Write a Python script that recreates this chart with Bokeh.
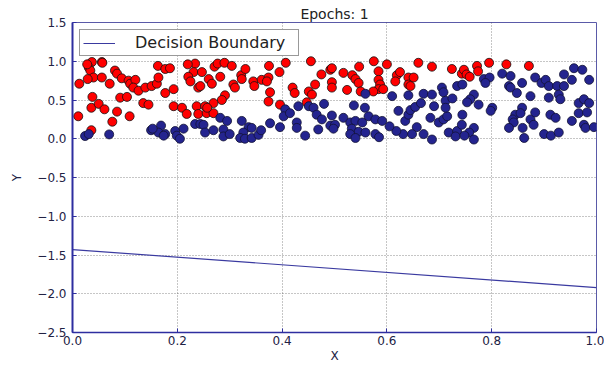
from bokeh.plotting import figure
from bokeh.models import FixedTicker, CustomJSTickFormatter, Legend, LegendItem, Title
from bokeh.embed import file_html
from bokeh.resources import INLINE

red_x = [0.037, 0.056, 0.031, 0.034, 0.040, 0.056, 0.013, 0.071, 0.081, 0.085, 0.094, 0.107, 0.110, 0.120, 0.116, 0.126,
         0.139, 0.151, 0.161, 0.164, 0.163, 0.177, 0.186, 0.177, 0.193, 0.038, 0.036, 0.050, 0.061, 0.091, 0.104, 0.135,
         0.145, 0.085, 0.076, 0.109, 0.011, 0.036, 0.193, 0.209, 0.218, 0.237, 0.240, 0.234, 0.231, 0.221, 0.225, 0.240,
         0.271, 0.277, 0.290, 0.304, 0.247, 0.260, 0.266, 0.282, 0.244, 0.307, 0.310, 0.322, 0.323, 0.345, 0.347, 0.361,
         0.374, 0.371, 0.375, 0.377, 0.291, 0.285, 0.269, 0.253, 0.256, 0.269, 0.374, 0.396, 0.407, 0.455, 0.475, 0.463,
         0.420, 0.424, 0.451, 0.457, 0.492, 0.495, 0.495, 0.447,
         0.495, 0.517, 0.534, 0.540, 0.546, 0.547, 0.575, 0.584, 0.584, 0.587, 0.584, 0.593, 0.600, 0.524, 0.550, 0.574,
         0.619, 0.625, 0.616, 0.641, 0.651, 0.641, 0.645, 0.660, 0.686, 0.724, 0.743,
         0.747, 0.752, 0.758, 0.772, 0.774, 0.795, 0.828, 0.871,
         0.028, 0.057, 0.029, 0.220, 0.257, 0.330, 0.395]
red_y = [0.99, 0.99, 0.92, 0.88, 0.79, 0.79, 0.71, 0.71, 0.88, 0.84, 0.78, 0.75, 0.71, 0.76, 0.66, 0.62,
         0.66, 0.68, 0.71, 0.79, 0.94, 0.90, 0.91, 0.59, 0.64, 0.54, 0.40, 0.45, 0.38, 0.53, 0.54, 0.46,
         0.44, 0.35, 0.22, 0.29, 0.29, 0.11, 0.42, 0.40, 0.32, 0.42, 0.32, 0.97, 0.86, 0.80, 0.74, 0.66,
         0.93, 0.97, 0.98, 0.94, 0.86, 0.77, 0.71, 0.80, 0.68, 0.70, 0.66, 0.82, 0.77, 0.74, 0.68, 0.76,
         0.79, 0.74, 0.94, 0.60, 0.56, 0.50, 0.46, 0.42, 0.33, 0.33, 0.48, 0.44, 0.98, 1.00, 0.83, 0.70,
         0.66, 0.59, 0.61, 0.57, 0.89, 0.73, 0.66, 0.47,
         0.91, 0.85, 0.82, 0.77, 0.72, 0.93, 1.00, 0.87, 0.76, 0.70, 0.64, 0.64, 0.96, 0.63, 0.61, 0.61,
         0.82, 0.86, 0.74, 0.79, 0.79, 0.70, 0.68, 0.98, 0.93, 0.90, 0.84,
         0.89, 0.83, 0.80, 0.94, 0.87, 0.98, 0.96, 0.94,
         0.96, 0.98, 0.77, 0.96, 0.40, 0.90, 0.86]

blue_x = [0.024, 0.031, 0.070, 0.150, 0.169, 0.164, 0.177, 0.196, 0.199, 0.205, 0.234, 0.244, 0.153, 0.174,
          0.250, 0.253, 0.269, 0.282, 0.295, 0.288, 0.288, 0.323, 0.336, 0.342, 0.326, 0.320, 0.329, 0.342, 0.377,
          0.396, 0.406, 0.403, 0.431, 0.451, 0.460, 0.428, 0.428, 0.444, 0.466, 0.476, 0.469, 0.492,
          0.559, 0.610, 0.641, 0.670, 0.686, 0.705, 0.708, 0.712, 0.734, 0.537, 0.558, 0.495, 0.517, 0.501, 0.498,
          0.530, 0.540, 0.553, 0.565, 0.578, 0.591, 0.533, 0.546, 0.559, 0.530, 0.578, 0.635, 0.641, 0.645, 0.654,
          0.657, 0.631, 0.618, 0.648, 0.670, 0.686, 0.683, 0.699, 0.708, 0.715, 0.712, 0.718, 0.734, 0.731, 0.743,
          0.744, 0.785, 0.796, 0.788, 0.820, 0.836, 0.833, 0.836, 0.858, 0.848, 0.874, 0.883, 0.895, 0.903, 0.909,
          0.925, 0.938, 0.938, 0.957, 0.973, 0.953, 0.986, 0.909, 0.928, 0.931, 0.766, 0.759, 0.753, 0.775, 0.801,
          0.798, 0.744, 0.845, 0.858, 0.855, 0.840, 0.842, 0.833, 0.859, 0.874, 0.880, 0.883, 0.912, 0.922, 0.953,
          0.966, 0.982, 0.966, 0.976, 0.986, 0.976, 0.979, 0.995, 0.766, 0.757, 0.748, 0.766, 0.862, 0.900, 0.913,
          0.928,
          0.300, 0.355, 0.415, 0.480, 0.605, 0.622, 0.665, 0.690, 0.725, 0.585, 0.540, 0.360, 0.212]
blue_y = [0.035, 0.06, 0.056, 0.11, 0.17, 0.08, 0.06, 0.10, 0.04, 0.00, 0.19, 0.19, 0.13, 0.04,
          0.18, 0.08, 0.11, 0.27, 0.23, 0.12, 0.03, 0.23, 0.15, 0.14, 0.08, 0.01, 0.00, 0.01, 0.20,
          0.15, 0.38, 0.29, 0.42, 0.42, 0.40, 0.21, 0.14, 0.04, 0.31, 0.25, 0.12, 0.17,
          0.58, 0.55, 0.56, 0.58, 0.57, 0.66, 0.60, 0.49, 0.68, 0.43, 0.40, 0.30, 0.27, 0.18, 0.13,
          0.21, 0.23, 0.21, 0.29, 0.25, 0.23, 0.13, 0.09, 0.08, 0.06, 0.06, 0.23, 0.31, 0.37, 0.41,
          0.15, 0.06, 0.10, 0.06, 0.06, -0.01, 0.27, 0.21, 0.25, 0.29, 0.40, 0.08, 0.10, 0.03, 0.18,
          0.70, 0.77, 0.79, 0.72, 0.84, 0.81, 0.68, 0.66, 0.72, 0.59, 0.55, 0.79, 0.72, 0.76, 0.68,
          0.68, 0.68, 0.83, 0.91, 0.89, 0.76, 0.76, 0.53, 0.57, 0.51, 0.57, 0.51, 0.47, 0.44, 0.40,
          0.36, 0.31, 0.31, 0.40, 0.33, 0.25, 0.21, 0.14, 0.14, 0.25, 0.18, 0.34, 0.31, 0.27, 0.23,
          0.33, 0.34, 0.46, 0.51, 0.46, 0.18, 0.14, 0.15, 0.14, 0.08, 0.04, -0.01, 0.01, 0.06, 0.04,
          0.08,
          0.06, 0.05, 0.33, 0.45, 0.16, 0.36, 0.46, 0.42, 0.52, 0.02, 0.01, 0.11, 0.13]

boundary_x = [0.0, 1.0]
boundary_y = [-1.43, -1.92]

x_ticks = [0.0, 0.2, 0.4, 0.6, 0.8, 1.0]
y_ticks = [-2.5, -2.0, -1.5, -1.0, -0.5, 0.0, 0.5, 1.0, 1.5]

FONT = "DejaVu Sans"
SPINE = "#2e2ea0"
TXT = "#222244"

p = figure(width=604, height=365, x_range=(0, 1), y_range=(-2.5, 1.5),
           output_backend="svg", toolbar_location=None,
           min_border_left=72, min_border_right=8, min_border_top=22, min_border_bottom=30)
p.title = Title(text="Epochs: 1", align="center", text_font=FONT, text_font_size="14px",
                text_font_style="normal", text_color="#222222", standoff=2, offset=0)

fmt = CustomJSTickFormatter(code="return tick.toFixed(1).replace('-', '\u2212');")
p.xaxis.ticker = FixedTicker(ticks=x_ticks)
p.yaxis.ticker = FixedTicker(ticks=y_ticks)
p.xaxis.formatter = fmt
p.yaxis.formatter = fmt
for ax in (p.xaxis, p.yaxis):
    ax.major_label_text_font = FONT
    ax.major_label_text_font_size = "12px"
    ax.major_label_text_color = TXT
    ax.axis_label_text_font = FONT
    ax.axis_label_text_font_size = "12px"
    ax.axis_label_text_font_style = "normal"
    ax.axis_label_text_color = TXT
    ax.axis_line_color = SPINE
    ax.axis_line_width = 1.5
    ax.major_tick_in = 4
    ax.major_tick_out = 0
    ax.major_tick_line_color = SPINE
    ax.minor_tick_line_color = None
p.xaxis.major_label_standoff = 3
p.xaxis.axis_label_standoff = 1
p.yaxis.major_label_standoff = 6
p.yaxis.axis_label_standoff = 10
p.yaxis.axis_line_width = 2
p.xaxis.axis_label = "X"
p.yaxis.axis_label = "Y"

p.outline_line_color = "#5a5aa8"
p.outline_line_width = 1
p.grid.grid_line_color = "#333333"
p.grid.grid_line_dash = "1 2"
p.grid.grid_line_alpha = 0.7
p.grid.grid_line_width = 0.8
p.background_fill_color = "white"
p.border_fill_color = "white"

line = p.line(boundary_x, boundary_y, line_color="#3a3aa0", line_width=1.2)
p.scatter(red_x, red_y, size=9, fill_color="#ff0000", line_color="#111111", line_width=0.8)
p.scatter(blue_x, blue_y, size=9, fill_color="#24248f", line_color="#111133", line_width=0.8)

legend = Legend(items=[LegendItem(label="Decision Boundary", renderers=[line])],
                location="top_left", margin=7, padding=3, spacing=0,
                label_text_font=FONT, label_text_font_size="16px", label_text_color="#222222",
                glyph_width=32, glyph_height=14, label_height=14, label_width=160, label_standoff=20,
                border_line_color="#333333", border_line_width=1, background_fill_alpha=1.0)
p.add_layout(legend)

open("out.html", "w").write(file_html(p, INLINE))
